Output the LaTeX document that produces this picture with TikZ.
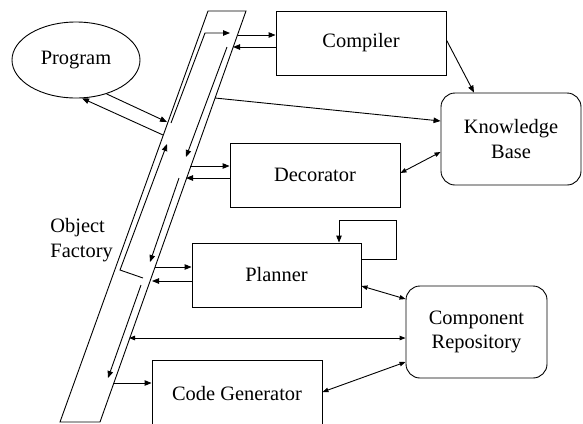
\documentclass[tikz,border=0pt]{standalone}
\usepackage{fontspec}
\setmainfont{Liberation Serif}
\usetikzlibrary{shapes.geometric,arrows.meta}
\newcommand\diafont{\fontsize{20.5}{24.5}\selectfont}
\begin{document}
\begin{tikzpicture}[x=1bp,y=-1bp, line width=0.9bp,
  tip/.style={-{Triangle[length=7bp,width=5.5bp]}},
  dtip/.style={{Triangle[length=6bp,width=4.5bp]}-{Triangle[length=6bp,width=4.5bp]}},
  box/.style={draw, rectangle, inner sep=0pt, font=\diafont},
  rbox/.style={draw, rectangle, rounded corners=14bp, align=center, inner sep=0pt, font=\diafont},
]
\clip (0,0) rectangle (583,423);
% nodes
\node[ellipse, draw, minimum width=128bp, minimum height=76bp, inner sep=0pt, font=\diafont] (prog) at (76,60) {Program};
\node[box, minimum width=170bp, minimum height=64bp] (comp) at (361,43) {Compiler};
\node[rbox, minimum width=140bp, minimum height=92bp] (kb) at (511,139) {Knowledge\\Base};
\node[box, minimum width=170bp, minimum height=64bp] (deco) at (315,175) {Decorator};
\node[box, minimum width=169bp, minimum height=64bp] (plan) at (276.5,275) {Planner};
\node[rbox, minimum width=141bp, minimum height=92bp] (repo) at (476.5,332) {Component\\Repository};
\node[box, minimum width=170bp, minimum height=66bp, anchor=north] (cgen) at (237,360) {Code Generator};
\node[align=left, anchor=west, font=\diafont, inner sep=0pt] (of) at (50,240) {Object\\Factory};
% band (object factory)
\coordinate (btl) at (208,11);
\coordinate (btr) at (246,11);
\coordinate (bbr) at (100,422);
\coordinate (bbl) at (60,422);
\draw (btl) -- (btr) -- (bbr) -- (bbl) -- cycle;
% points on and in the band
\coordinate (pin) at (167,122);
\coordinate (pout) at (163,135);
\coordinate (a1) at (171,123);
\coordinate (a2) at (205,33);
\coordinate (a3) at (230,33);
\coordinate (c1) at (238,35);
\coordinate (c2) at (233,47);
\coordinate (r1) at (227,47);
\coordinate (r2) at (186,157);
\coordinate (k1) at (215,98);
\coordinate (d1) at (190,166);
\coordinate (d2) at (186,178);
\coordinate (s1) at (179,178);
\coordinate (s2) at (150,262);
\coordinate (b1) at (143,278);
\coordinate (b2) at (120,270);
\coordinate (b3) at (167,144);
\coordinate (p1) at (155,267);
\coordinate (p2) at (152,281);
\coordinate (t1) at (141,285);
\coordinate (t2) at (108,378);
\coordinate (m1) at (129,338);
\coordinate (g1) at (113,383);
\coordinate (l1) at (396,259);
\coordinate (l2) at (396,220);
\coordinate (l3) at (339,220);
% connectors
\draw[tip] (prog.-48) -- (pin);
\draw[tip] (pout) -- (prog.-81);
\draw[tip] (a1) -- (a2) -- (a3);
\draw[tip] (c1) -- (comp.west |- c1);
\draw[tip] (comp.west |- c2) -- (c2);
\draw[tip] (r1) -- (r2);
\draw[tip] (k1) -- (kb.west |- 0,121);
\draw[tip] (comp.east |- 0,40) -- (kb.north -| 474,0);
\draw[tip] (d1) -- (deco.west |- d1);
\draw[tip] (deco.west |- d2) -- (d2);
\draw[dtip] (deco.east |- 0,173) -- (kb.west |- 0,152);
\draw[tip] (s1) -- (s2);
\draw[tip] (b1) -- (b2) -- (b3);
\draw[tip] (p1) -- (plan.west |- p1);
\draw[tip] (plan.west |- p2) -- (p2);
\draw[tip] (plan.east |- l1) -- (l1) -- (l2) -- (l3) -- (plan.north -| l3);
\draw[dtip] (plan.east |- 0,286) -- (repo.west |- 0,299);
\draw[tip] (t1) -- (t2);
\draw[dtip] (m1) -- (repo.west |- m1);
\draw[tip] (g1) -- (cgen.west |- g1);
\draw[dtip] (cgen.east |- 0,392) -- (repo.west |- 0,362);
\end{tikzpicture}
\end{document}
